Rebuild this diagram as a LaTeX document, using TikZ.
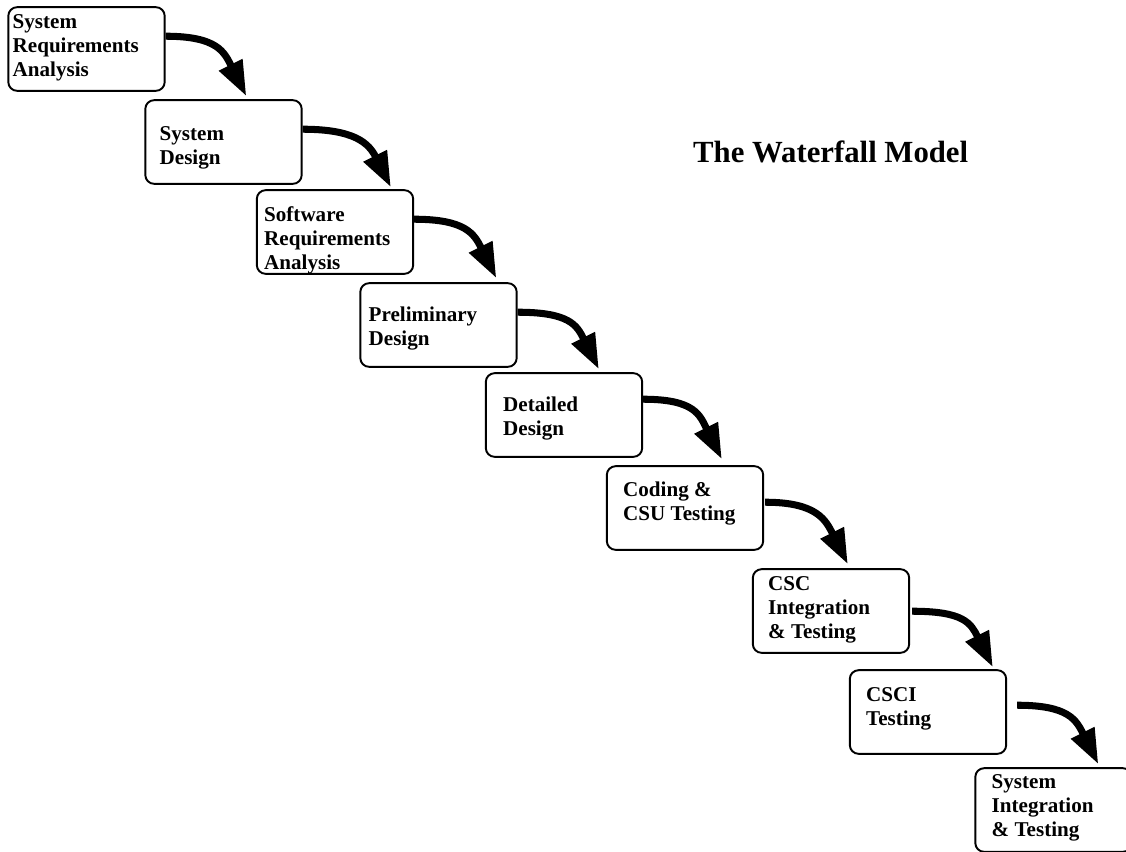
\documentclass[tikz,border=0pt]{standalone}
\usepackage{fontspec}
\setmainfont{Liberation Serif}
\usetikzlibrary{arrows.meta,calc}

\begin{document}
\begin{tikzpicture}[x=0.02cm,y=-0.02cm,
  stage/.style={draw,line width=1.1pt,rounded corners=5pt,minimum width=89pt,minimum height=47.6pt,inner sep=0pt},
  stagetext/.style={anchor=north west,inner sep=0pt,align=left,font=\fontsize{12}{13.6}\selectfont\bfseries},
  flow/.style={line width=4pt,-{Triangle[length=20pt,width=14pt]}}]

\useasboundingbox (0,0) rectangle (1126,852);

\node[anchor=base west,font=\fontsize{17.5}{20}\selectfont\bfseries] (title) at (687,162) {The Waterfall Model};

% the boxes
\node[stage] (sra) at (86.5,49) {};
\node[stage] (sd) at (223.5,142) {};
\node[stage] (swra) at (335,232) {};
\node[stage] (pd) at (438.5,325) {};
\node[stage] (dd) at (564,415) {};
\node[stage] (cut) at (685,508) {};
\node[stage] (csc) at (831,611) {};
\node[stage] (csci) at (928,712) {};
\node[stage] (sit) at (1053.5,810) {};

\node[stagetext] (sra-t) at ($(sra.north west)+(5,8)$) {System\\Requirements\\Analysis};
\node[stagetext] (sd-t) at ($(sd.north west)+(15,27)$) {System\\Design};
\node[stagetext] (swra-t) at ($(swra.north west)+(8,17)$) {Software\\Requirements\\Analysis};
\node[stagetext] (pd-t) at ($(pd.north west)+(9,24)$) {Preliminary\\Design};
\node[stagetext] (dd-t) at ($(dd.north west)+(18,24)$) {Detailed\\Design};
\node[stagetext] (cut-t) at ($(cut.north west)+(17,16)$) {Coding \&\\CSU Testing};
\node[stagetext] (csc-t) at ($(csc.north west)+(16,8)$) {CSC\\Integration\\\& Testing};
\node[stagetext] (csci-t) at ($(csci.north west)+(17,18)$) {CSCI\\Testing};
\node[stagetext] (sit-t) at ($(sit.north west)+(17,7)$) {System\\Integration\\\& Testing};

% the falls
\draw[flow] ($(sra.north east)+(0,30)$) .. controls +(52,0) and +(-22,-44) .. ($(sd.north west)+(102,-3)$);
\draw[flow] ($(sd.north east)+(0,30)$) .. controls +(52,0) and +(-22,-44) .. ($(swra.north west)+(135,-2)$);
\draw[flow] ($(swra.north east)+(0,30)$) .. controls +(52,0) and +(-22,-44) .. ($(pd.north west)+(137,-4)$);
\draw[flow] ($(pd.north east)+(0,30)$) .. controls +(52,0) and +(-22,-44) .. ($(dd.north west)+(114,-3)$);
\draw[flow] ($(dd.north east)+(0,27)$) .. controls +(52,0) and +(-22,-44) .. ($(cut.north west)+(116,-6)$);
\draw[flow] ($(cut.north east)+(1,37)$) .. controls +(52,0) and +(-22,-44) .. ($(csc.north west)+(96,-4)$);
\draw[flow] ($(csc.north east)+(2,43)$) .. controls +(52,0) and +(-22,-44) .. ($(csci.north west)+(144,-2)$);
\draw[flow] ($(csci.north east)+(10,36)$) .. controls +(52,0) and +(-22,-44) .. ($(sit.north west)+(124,-3)$);

\end{tikzpicture}
\end{document}
